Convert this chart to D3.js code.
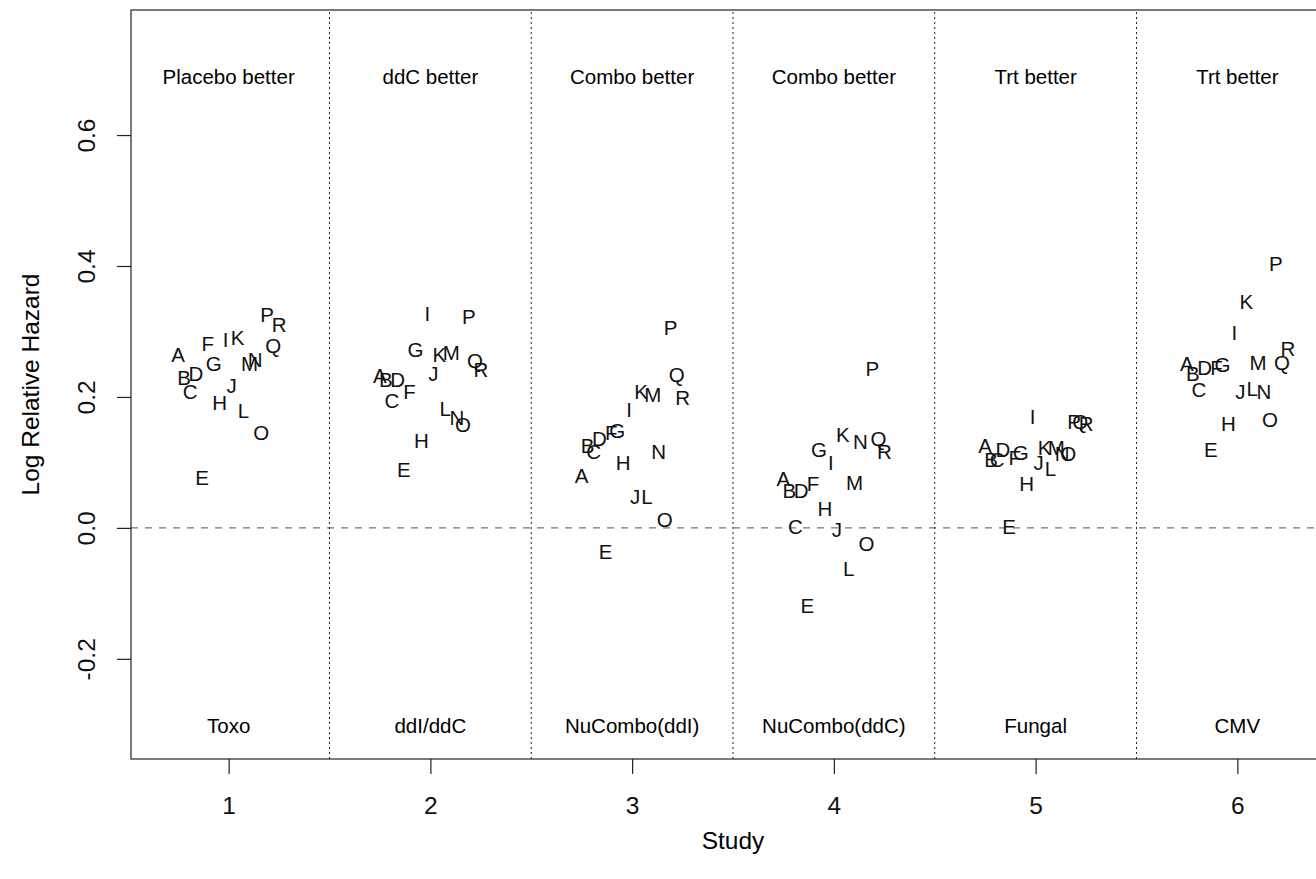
<!DOCTYPE html>
<html>
<head>
<meta charset="utf-8">
<script src="https://cdn.jsdelivr.net/npm/d3@7"></script>
<style>
  body { margin: 0; background: #fff; }
  svg { display: block; font-family: "Liberation Sans", Arial, sans-serif; }
</style>
</head>
<body>
<div id="chartContainer"></div>
<script>
// Study indices and labels
const studies = [1, 2, 3, 4, 5, 6];
const studyNames = ["Toxo", "ddI/ddC", "NuCombo(ddI)", "NuCombo(ddC)", "Fungal", "CMV"];
const betterLabels = ["Placebo better", "ddC better", "Combo better", "Combo better", "Trt better", "Trt better"];
const yTicks = [-0.2, 0.0, 0.2, 0.4, 0.6];

// Letters plotted at study + offset
const letters = ["A","B","C","D","E","F","G","H","I","J","K","L","M","N","O","P","Q","R"];
const letterOffsets = [-0.25, -0.221, -0.191, -0.162, -0.132, -0.103, -0.074, -0.044, -0.015,
                       0.015, 0.044, 0.074, 0.103, 0.132, 0.162, 0.191, 0.221, 0.25];

// Log relative hazard per study (A..R)
const study1 = [0.265, 0.230, 0.208, 0.236, 0.077, 0.282, 0.251, 0.192, 0.288, 0.218, 0.290, 0.179, 0.251, 0.257, 0.146, 0.325, 0.278, 0.310];
const study2 = [0.232, 0.226, 0.194, 0.226, 0.089, 0.208, 0.272, 0.134, 0.328, 0.235, 0.264, 0.182, 0.267, 0.168, 0.157, 0.322, 0.256, 0.241];
const study3 = [0.080, 0.125, 0.117, 0.136, -0.036, 0.145, 0.148, 0.100, 0.180, 0.047, 0.208, 0.047, 0.203, 0.116, 0.012, 0.306, 0.234, 0.199];
const study4 = [0.075, 0.057, 0.002, 0.057, -0.118, 0.068, 0.120, 0.030, 0.099, -0.003, 0.143, -0.062, 0.069, 0.132, -0.024, 0.243, 0.136, 0.116];
const study5 = [0.126, 0.104, 0.104, 0.119, 0.002, 0.108, 0.115, 0.068, 0.170, 0.099, 0.123, 0.091, 0.123, 0.114, 0.114, 0.163, 0.163, 0.159];
const study6 = [0.251, 0.236, 0.211, 0.245, 0.119, 0.245, 0.250, 0.159, 0.299, 0.208, 0.345, 0.212, 0.253, 0.208, 0.165, 0.404, 0.253, 0.274];
const values = [study1, study2, study3, study4, study5, study6];

function createChart() {
    const width = 1316;
    const height = 879;
    const labelSize = 20.5;
    const axisSize = 24.5;

    // plot region (right edge runs past the window)
    const x = d3.scaleLinear().domain([0.516, 6.484]).range([131, 1335]);
    const y = d3.scaleLinear().domain([-0.353, 0.791]).range([759, 10]);

    const svg = d3.create("svg")
        .attr("width", width)
        .attr("height", height)
        .attr("viewBox", `0 0 ${width} ${height}`);

    // points as letters
    const points = [];
    values.forEach((vals, s) => {
        vals.forEach((v, i) => points.push({ x: studies[s] + letterOffsets[i], y: v, label: letters[i] }));
    });

    // reference line at zero
    svg.append("line")
        .attr("x1", x.range()[0]).attr("x2", x.range()[1])
        .attr("y1", y(0)).attr("y2", y(0))
        .attr("stroke", "#777").attr("stroke-width", 1.3)
        .attr("stroke-dasharray", "7,7");

    // study dividers
    svg.append("g")
        .selectAll("line")
        .data(studies.slice(0, -1))
        .join("line")
        .attr("x1", d => x(d + 0.5)).attr("x2", d => x(d + 0.5))
        .attr("y1", y.range()[0]).attr("y2", y.range()[1])
        .attr("stroke", "#222").attr("stroke-width", 1)
        .attr("stroke-dasharray", "2,3");

    svg.append("g")
        .attr("font-size", labelSize)
        .attr("text-anchor", "middle")
        .selectAll("text")
        .data(points)
        .join("text")
        .attr("x", d => x(d.x))
        .attr("y", d => y(d.y))
        .attr("dy", "0.36em")
        .attr("fill", "#111")
        .text(d => d.label);

    // panel labels
    svg.append("g")
        .attr("font-size", labelSize)
        .attr("text-anchor", "middle")
        .selectAll("text")
        .data(studies)
        .join("text")
        .attr("x", d => x(d))
        .attr("y", y(0.689))
        .attr("dy", "0.36em")
        .text((d, i) => betterLabels[i]);

    svg.append("g")
        .attr("font-size", labelSize)
        .attr("text-anchor", "middle")
        .selectAll("text")
        .data(studies)
        .join("text")
        .attr("x", d => x(d))
        .attr("y", y(-0.302))
        .attr("dy", "0.36em")
        .text((d, i) => studyNames[i]);

    // box
    svg.append("rect")
        .attr("x", x.range()[0]).attr("y", y.range()[1])
        .attr("width", x.range()[1] - x.range()[0])
        .attr("height", y.range()[0] - y.range()[1])
        .attr("fill", "none").attr("stroke", "#222").attr("stroke-width", 1.2);

    // axes
    const xAxis = svg.append("g")
        .attr("transform", `translate(0,${y.range()[0]})`)
        .call(d3.axisBottom(x).tickValues(studies).tickFormat(d3.format("d")).tickSize(15).tickPadding(23));
    xAxis.select(".domain").remove();
    xAxis.selectAll("line").attr("stroke", "#222").attr("stroke-width", 1.2);
    xAxis.selectAll("text")
        .attr("font-family", "Liberation Sans, Arial, sans-serif")
        .attr("font-size", axisSize).attr("fill", "#111");

    const yAxis = svg.append("g")
        .attr("transform", `translate(${x.range()[0]},0)`)
        .call(d3.axisLeft(y).tickValues(yTicks).tickFormat(d => d.toFixed(1)).tickSize(14));
    yAxis.select(".domain").remove();
    yAxis.selectAll("line").attr("stroke", "#222").attr("stroke-width", 1.2);
    yAxis.selectAll("text")
        .attr("font-family", "Liberation Sans, Arial, sans-serif")
        .attr("font-size", axisSize).attr("fill", "#111")
        .attr("text-anchor", "middle")
        .attr("x", 0).attr("y", 0)
        .attr("dy", "0.36em")
        .attr("transform", "translate(-45,0) rotate(-90)");

    // axis titles
    svg.append("text")
        .attr("x", (x.range()[0] + x.range()[1]) / 2)
        .attr("y", 840)
        .attr("dy", "0.36em")
        .attr("text-anchor", "middle")
        .attr("font-size", axisSize)
        .text("Study");

    svg.append("text")
        .attr("transform", `translate(30,${(y.range()[0] + y.range()[1]) / 2}) rotate(-90)`)
        .attr("dy", "0.36em")
        .attr("text-anchor", "middle")
        .attr("font-size", axisSize)
        .text("Log Relative Hazard");

    return svg.node();
}

document.getElementById("chartContainer").appendChild(createChart());
</script>
</body>
</html>
